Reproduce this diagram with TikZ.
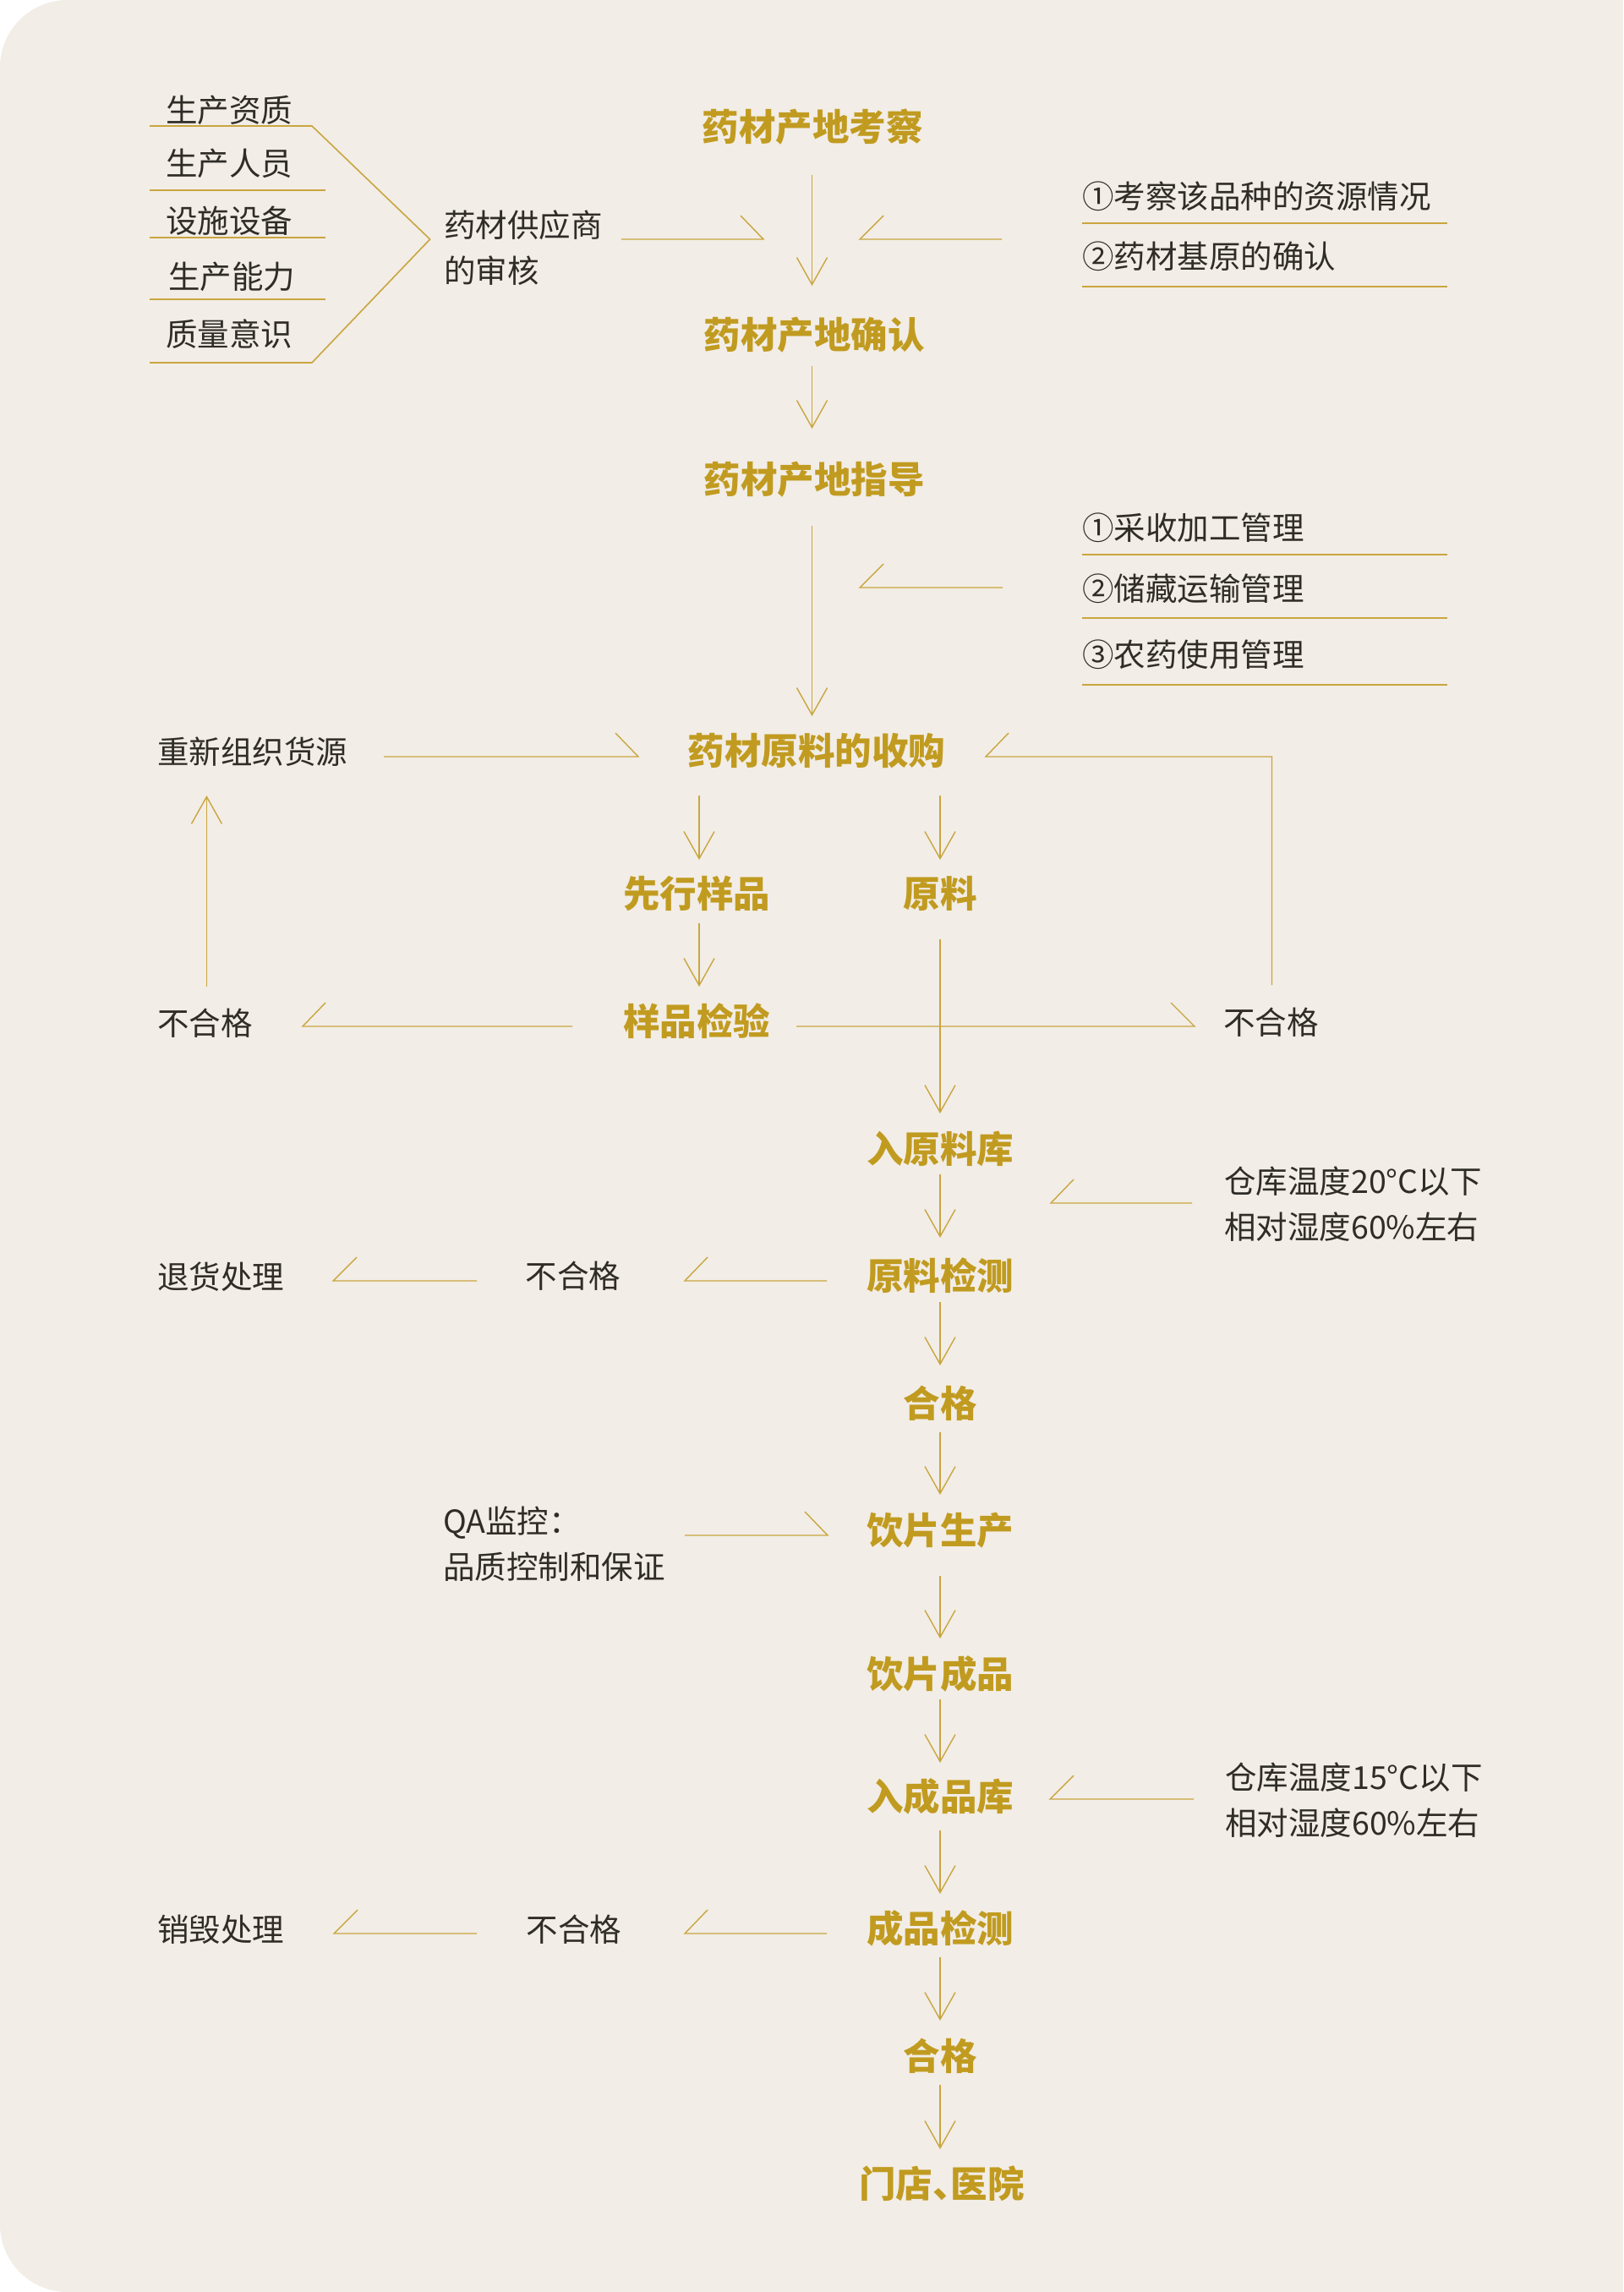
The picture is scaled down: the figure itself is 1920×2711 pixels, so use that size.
\documentclass[tikz,border=0pt]{standalone}
\usepackage{fontspec}
\setmainfont{Noto Sans CJK SC}
\usetikzlibrary{arrows.meta,calc}
\definecolor{bgc}{RGB}{242,237,230}
\definecolor{goldt}{RGB}{193,155,32}
\definecolor{linec}{RGB}{201,166,64}
\definecolor{darkt}{RGB}{48,44,40}
\tikzset{
  ttl/.style={inner sep=0pt, text=goldt, font=\fontsize{43.5}{50}\selectfont\bfseries},
  txt/.style={inner sep=0pt, text=darkt, font=\fontsize{37.5}{54}\selectfont, anchor=west, align=left},
  arr/.style={draw=linec, line width=1.4pt, -{Straight Barb[length=32pt,width=36pt,line width=1.4pt]}},
  half/.style={draw=linec, line width=1.4pt, line join=miter},
  ulrule/.style={draw=linec, line width=1.6pt},
}
\begin{document}
\begin{tikzpicture}[x=1pt,y=-1pt]
\useasboundingbox (0,0) rectangle (1920,2711);
\fill[white] (0,0) rectangle (1920,2711);
\fill[bgc] (1920,0) -- (80,0) .. controls (35.8,0) and (0,35.8) .. (0,80) -- (0,2631) .. controls (0,2675.2) and (35.8,2711) .. (80,2711) -- (1920,2711) -- cycle;

% main titles
\node[ttl] (t1) at (961,150) {药材产地考察};
\node[ttl] (t2) at (963,396) {药材产地确认};
\node[ttl] (t3) at (963,567) {药材产地指导};
\node[ttl] (t4) at (966,888) {药材原料的收购};
\node[ttl] (t5) at (824,1057) {先行样品};
\node[ttl] (t6) at (1112,1057) {原料};
\node[ttl] (t7) at (824,1208) {样品检验};
\node[ttl] (t8) at (1112,1359) {入原料库};
\node[ttl] (t9) at (1112,1509) {原料检测};
\node[ttl] (t10) at (1112,1660) {合格};
\node[ttl] (t11) at (1112,1810) {饮片生产};
\node[ttl] (t12) at (1112,1980) {饮片成品};
\node[ttl] (t13) at (1112,2125) {入成品库};
\node[ttl] (t14) at (1112,2281) {成品检测};
\node[ttl] (t15) at (1112,2432) {合格};
\node[ttl] (t16) at (1114,2583) {门店、\kern-0.5em医院};

% main arrows
\draw[arr] ($(t1.center|-t1.center)+(-0.5,57)$) -- ($(t1.center|-t2.center)+(-0.5,-58)$);
\draw[arr] ($(t1.center|-t2.center)+(-0.5,37)$) -- ($(t1.center|-t3.center)+(-0.5,-60)$);
\draw[arr] ($(t1.center|-t3.center)+(-0.5,55)$) -- ($(t1.center|-t4.center)+(-0.5,-41)$);
\draw[arr] ($(t5.center|-t4.center)+(3,53)$) -- ($(t5.center)+(3,-40)$);
\draw[arr] ($(t6.center|-t4.center)+(0,53)$) -- ($(t6.center)+(0,-40)$);
\draw[arr] ($(t5.center)+(3,35)$) -- ($(t7.center)+(3,-41)$);
\draw[arr] ($(t6.center)+(0,54)$) -- ($(t8.center)+(0,-42)$);
\draw[arr] ($(t8.center)+(0,30)$) -- ($(t9.center)+(0,-45)$);
\draw[arr] ($(t9.center)+(0,31)$) -- ($(t10.center)+(0,-45)$);
\draw[arr] ($(t10.center)+(0,34)$) -- ($(t11.center)+(0,-42)$);
\draw[arr] ($(t11.center)+(0,54)$) -- ($(t12.center)+(0,-42)$);
\draw[arr] ($(t12.center)+(0,30)$) -- ($(t13.center)+(0,-40)$);
\draw[arr] ($(t13.center)+(0,40)$) -- ($(t14.center)+(0,-41)$);
\draw[arr] ($(t14.center)+(0,34)$) -- ($(t15.center)+(0,-42)$);
\draw[arr] ($(t15.center|-t15.center)+(0,34)$) -- ($(t15.center|-t16.center)+(0,-41)$);

% left top list
\node[txt] (l1) at (196,130) {生产资质};
\node[txt] (l2) at (196,193) {生产人员};
\node[txt] (l3) at (196,261) {设施设备};
\node[txt] (l4) at (199,327) {生产能力};
\node[txt] (l5) at (196,395) {质量意识};
\draw[ulrule] (177,149) -- (369,149) -- (508.6,283) -- (369,429) -- (177,429);
\draw[ulrule] (177,225) -- (385,225);
\draw[ulrule] (177,281) -- (385,281);
\draw[ulrule] (177,354) -- (385,354);

\node[txt] (s1) at (525,293) {药材供应商\\的审核};
\coordinate (s1a) at (735,283);
\coordinate (s1b) at (903,283);
\draw[half] (s1a) -- (s1b) -- ++(-27,-28);

% right top list
\node[txt] (k1) at (1280,232) {①考察该品种的资源情况};
\node[txt] (k2) at (1280,303) {②药材基原的确认};
\draw[ulrule] (1280,264) -- (1712,264);
\draw[ulrule] (1280,339) -- (1712,339);
\coordinate (k0a) at (1185,283);
\coordinate (k0b) at (1017,283);
\draw[half] (k0a) -- (k0b) -- ++(28,-28);

\node[txt] (g1) at (1280,624) {①采收加工管理};
\node[txt] (g2) at (1280,696) {②储藏运输管理};
\node[txt] (g3) at (1280,774) {③农药使用管理};
\draw[ulrule] (1280,656) -- (1712,656);
\draw[ulrule] (1280,731) -- (1712,731);
\draw[ulrule] (1280,810) -- (1712,810);
\coordinate (g0a) at (1186,695);
\coordinate (g0b) at (1017,695);
\draw[half] (g0a) -- (g0b) -- ++(28,-28);

% purchase loop
\node[txt] (r1) at (186,889) {重新组织货源};
\coordinate (r1a) at (454,895);
\coordinate (r1b) at (755,895);
\draw[half] (r1a) -- (r1b) -- ++(-27,-28);

\node[txt] (n1) at (186,1210) {不合格};
\node[txt] (n2) at (1447,1209) {不合格};
\draw[arr] ($(n1.center)+(2,-43)$) -- ($(n1.center|-r1.center)+(2,52)$);
\coordinate (fb) at (1166,895);
\draw[half] ($(n2.center)+(1,-44)$) |- (fb) -- ++(27,-28);

\coordinate (c7l1) at (677,1214);
\coordinate (c7l2) at (358,1214);
\draw[half] (c7l1) -- (c7l2) -- ++(27,-28);
\coordinate (c7r1) at (942,1214);
\coordinate (c7r2) at (1413,1214);
\draw[half] (c7r1) -- (c7r2) -- ++(-28,-28);

% storage conditions 1
\node[txt] (a1) at (1448,1424) {仓库温度20°C以下\\相对湿度60\%左右};
\coordinate (a1a) at (1410,1423);
\coordinate (a1b) at (1243,1423);
\draw[half] (a1a) -- (a1b) -- ++(27,-28);

% raw material check rejection
\node[txt, anchor=center] (n3) at (678,1509) {不合格};
\node[txt] (r2) at (186,1510) {退货处理};
\coordinate (n3a) at (978,1515);
\coordinate (n3b) at (810,1515);
\draw[half] (n3a) -- (n3b) -- ++(27,-28);
\coordinate (r2a) at (564,1515);
\coordinate (r2b) at (394,1515);
\draw[half] (r2a) -- (r2b) -- ++(28,-28);

% QA
\node[txt] (qa) at (524,1826) {QA监控：\\品质控制和保证};
\coordinate (qaa) at (810,1816);
\coordinate (qab) at (979,1816);
\draw[half] (qaa) -- (qab) -- ++(-27,-28);

% storage conditions 2
\node[txt] (a2) at (1449,2129.5) {仓库温度15°C以下\\相对湿度60\%左右};
\coordinate (a2a) at (1412,2128);
\coordinate (a2b) at (1242,2128);
\draw[half] (a2a) -- (a2b) -- ++(28,-28);

% finished product rejection
\node[txt, anchor=center] (n4) at (679,2282) {不合格};
\node[txt] (r3) at (186,2282) {销毁处理};
\coordinate (n4a) at (978,2287);
\coordinate (n4b) at (810,2287);
\draw[half] (n4a) -- (n4b) -- ++(27,-28);
\coordinate (r3a) at (564,2287);
\coordinate (r3b) at (395,2287);
\draw[half] (r3a) -- (r3b) -- ++(28,-28);
\end{tikzpicture}
\end{document}
